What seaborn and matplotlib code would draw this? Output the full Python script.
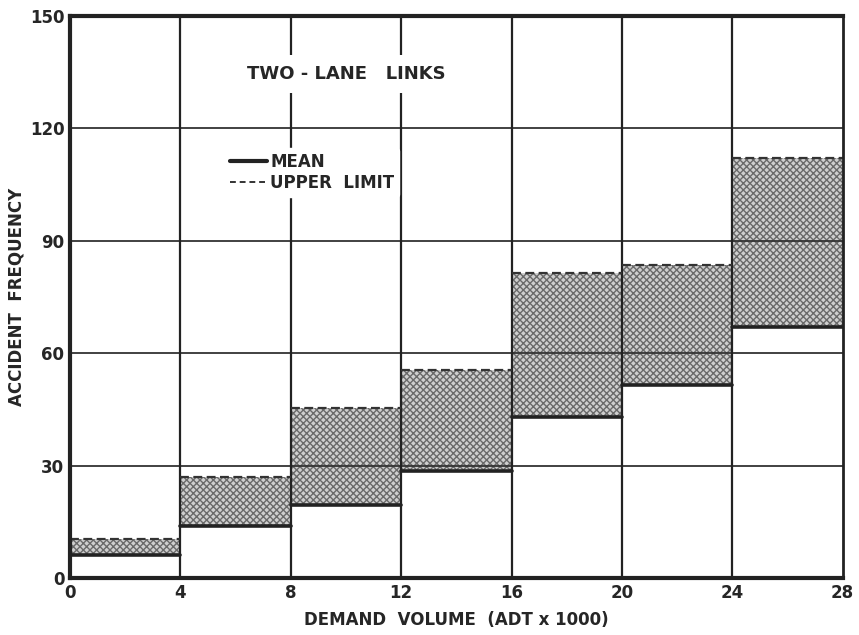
import numpy as np
import pandas as pd
import matplotlib
matplotlib.use("Agg")
import matplotlib.pyplot as plt
import seaborn as sns
from matplotlib.lines import Line2D

# demand volume bins (ADT x 1000) and accident frequency per bin
bin_start = [0, 4, 8, 12, 16, 20, 24]
bin_width = 4
mean_freq = [6, 14, 19.5, 28.5, 43, 51.5, 67]
upper_limit = [10.5, 27, 45.5, 55.5, 81.5, 83.5, 112]
x_ticks = [0, 4, 8, 12, 16, 20, 24, 28]
y_ticks = [0, 30, 60, 90, 120, 150]

# one flat segment per bin (left edge, right edge)
rows = []
for i, x0 in enumerate(bin_start):
    for x in (x0, x0 + bin_width):
        rows.append({"bin": i, "volume": x, "mean": mean_freq[i],
                     "upper": upper_limit[i]})
seg = pd.DataFrame(rows)

sns.set_style("white")
plt.rcParams["font.family"] = ["DejaVu Sans"]
plt.rcParams["font.weight"] = "bold"
plt.rcParams["hatch.linewidth"] = 1.0

fig = plt.figure(figsize=(8.59, 6.35), dpi=100)
ax = fig.add_axes([0.0815, 0.0898, 0.8995, 0.8850])

# shaded band between mean and upper limit (stippled)
for i, g in seg.groupby("bin"):
    ax.fill_between(g["volume"], g["mean"], g["upper"],
                    facecolor="#cfcfcf", edgecolor="#6a6a6a", hatch="xxxxx",
                    lw=0, zorder=1)

# grid drawn over the band, as in the print
for y in y_ticks[1:-1]:
    ax.axhline(y, color="#333333", lw=1.3, zorder=2)
for x in x_ticks[1:-1]:
    ax.axvline(x, color="#222222", lw=1.6, zorder=2)

sns.lineplot(data=seg, x="volume", y="mean", units="bin", estimator=None,
             color="#222222", lw=2.6, ax=ax, zorder=3)
sns.lineplot(data=seg, x="volume", y="upper", units="bin", estimator=None,
             color="#333333", lw=1.6, ls=(0, (4, 2)), ax=ax, zorder=3)

ax.set_xlim(0, 28)
ax.set_ylim(0, 150)
ax.set_xticks(x_ticks)
ax.set_yticks(y_ticks)
ax.tick_params(axis="both", labelsize=12, length=0, pad=4)
for lab in ax.get_xticklabels() + ax.get_yticklabels():
    lab.set_fontweight("bold")

for side in ["left", "bottom", "top", "right"]:
    ax.spines[side].set_visible(True)
    ax.spines[side].set_color("#222222")
    ax.spines[side].set_linewidth(3 if side in ("left", "bottom", "top") else 2)
    ax.spines[side].set_zorder(5)

ax.set_xlabel("DEMAND  VOLUME  (ADT x 1000)", fontsize=12, fontweight="bold",
              labelpad=7)
ax.set_ylabel("ACCIDENT  FREQUENCY", fontsize=12, fontweight="bold", labelpad=3)

ax.text(10.0, 134.5, "TWO - LANE   LINKS", fontsize=13, fontweight="bold",
        ha="center", va="center", zorder=4,
        bbox=dict(facecolor="white", edgecolor="none", pad=7))

handles = [Line2D([], [], color="#222222", lw=3),
           Line2D([], [], color="#333333", lw=1.4, ls=(0, (3, 2)))]
leg = ax.legend(handles, ["MEAN", "UPPER  LIMIT"], loc="upper left",
                bbox_to_anchor=(0.19, 0.78), frameon=True, fontsize=12,
                handlelength=2.2, handletextpad=0.2, labelspacing=0.2,
                borderpad=0.3)
leg.get_frame().set_facecolor("white")
leg.get_frame().set_edgecolor("white")
leg.get_frame().set_alpha(1)
for t in leg.get_texts():
    t.set_fontweight("bold")

fig.savefig("out.png", dpi=100)
